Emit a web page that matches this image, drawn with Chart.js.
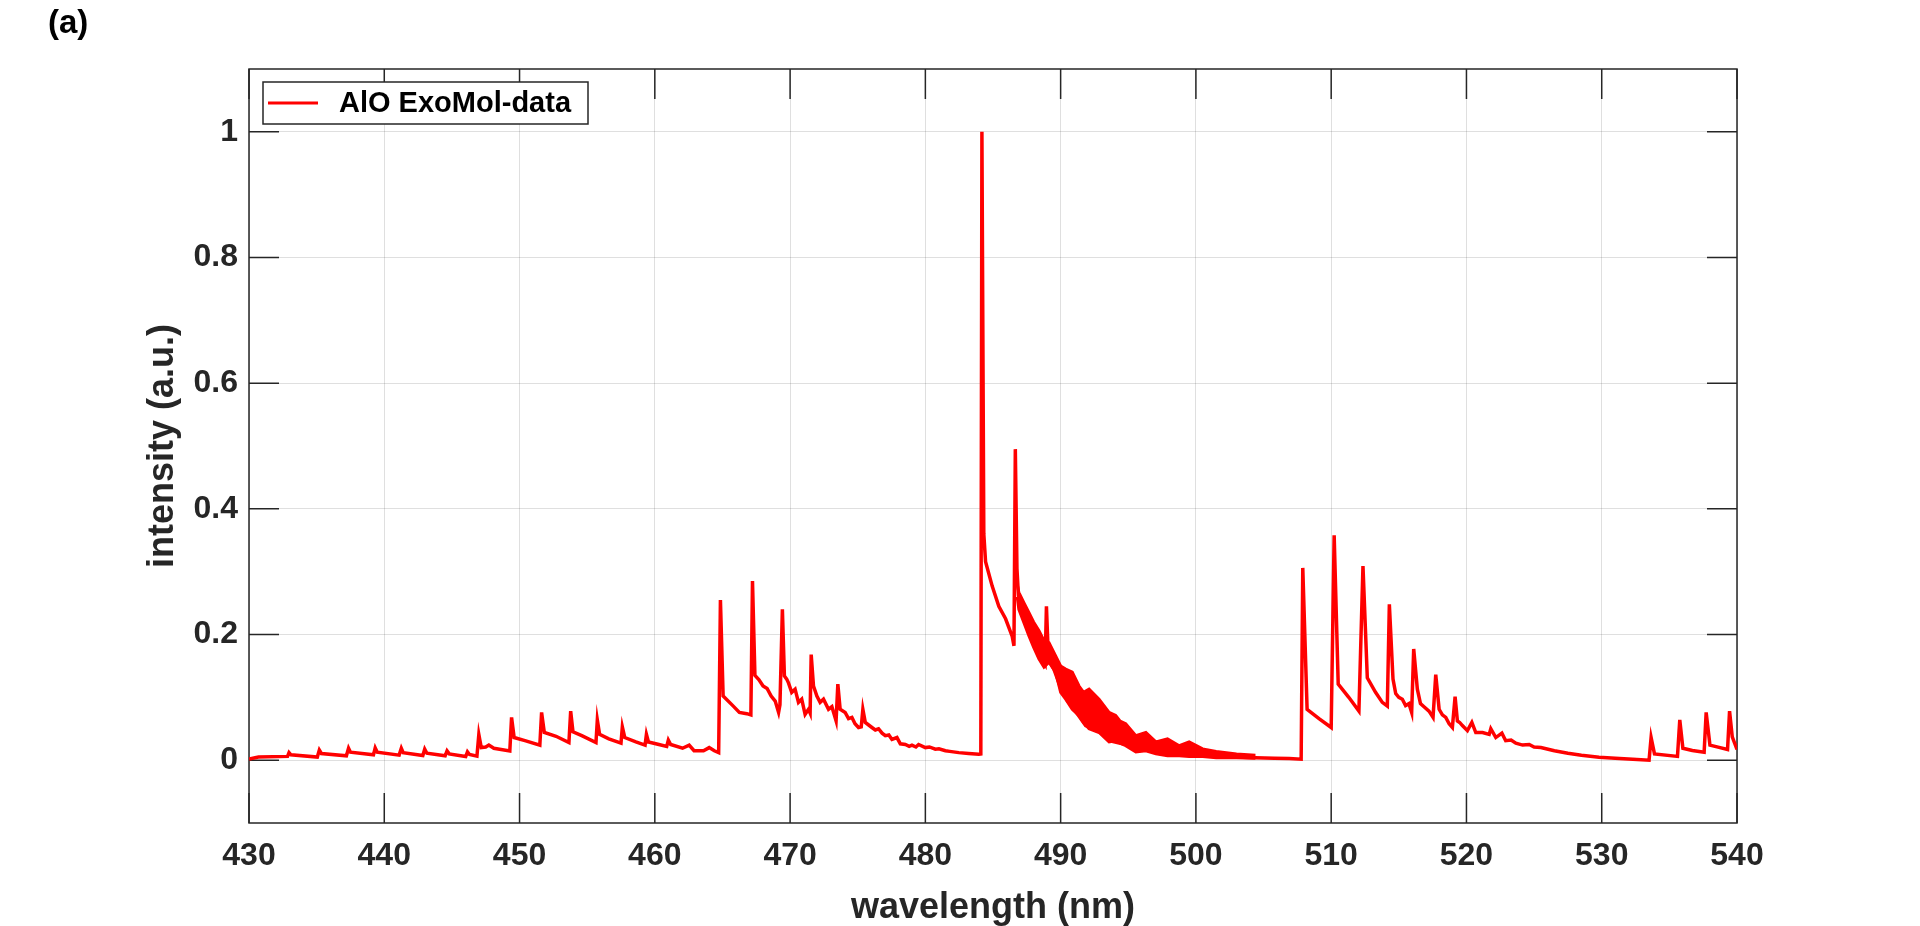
<!DOCTYPE html>
<html>
<head>
<meta charset="utf-8">
<script src="https://cdn.jsdelivr.net/npm/chart.js@4.4.1/dist/chart.umd.min.js"></script>
<style>
  html, body { margin: 0; padding: 0; background: #fff; }
  #wrap { width: 1920px; height: 926px; position: relative; }
</style>
</head>
<body>
<div id="wrap"><canvas id="spec"></canvas></div>
<script>
// ── values ────────────────────────────────────────────────────────────────────
const wavelength = [
  430.0, 430.7, 432.85, 432.96, 433.1, 435.05, 435.2, 435.35, 437.2, 437.36, 437.5,
  439.2, 439.33, 439.48, 441.1, 441.26, 441.4, 442.85, 442.99, 443.15, 444.5, 444.64, 444.8,
  446.02, 446.15, 446.3, 446.85, 446.99, 447.17, 447.5, 447.73, 448.1, 449.28, 449.41, 449.6,
  450.4, 451.5, 451.63, 451.83, 452.7, 453.65, 453.78, 453.95, 454.6, 455.65, 455.75, 455.92,
  456.6, 457.5, 457.6, 457.78, 458.6, 459.28, 459.38, 459.53, 460.3, 460.88, 461.0, 461.17,
  462.05, 462.54, 462.9, 463.6, 464.02, 464.4, 464.72, 464.85, 465.05, 465.8, 466.25, 466.8,
  467.1, 467.22, 467.4, 467.7, 468.0, 468.3, 468.6, 468.9, 469.15, 469.25, 469.43, 469.58,
  469.75, 469.88, 470.12, 470.37, 470.62, 470.86, 471.11, 471.36, 471.48, 471.56, 471.73,
  471.98, 472.22, 472.47, 472.84, 473.09, 473.4, 473.53, 473.7, 474.07, 474.32, 474.57, 474.8,
  475.06, 475.26, 475.38, 475.56, 476.05, 476.3, 476.54, 476.8, 477.04, 477.3, 477.53, 477.9,
  478.15, 478.52, 478.8, 479.01, 479.3, 479.5, 480.0, 480.3, 480.74, 481.0, 481.48, 481.8,
  482.47, 483.2, 483.95, 484.1, 484.18, 484.32, 484.45,
  484.94, 485.43, 485.93, 486.42, 486.55, 486.65, 486.77, 486.88, 487.5, 487.9, 488.3, 488.85,
  488.95, 489.1, 489.5, 490.0, 490.5, 491.1, 491.85, 492.84, 493.83, 494.81, 495.8, 496.3,
  497.78, 499.5, 501.5, 503.0, 504.4, 505.8, 506.9, 507.78, 507.9, 508.22, 509.1, 510.0, 510.22,
  510.52, 511.3, 512.05, 512.35, 512.67, 513.28, 513.78, 514.15, 514.3, 514.57, 514.77, 515.0,
  515.26, 515.5, 515.75, 515.95, 516.1, 516.37, 516.6, 516.86, 517.23, 517.53, 517.73, 517.98,
  518.22, 518.47, 518.72, 518.96, 519.16, 519.33, 519.5, 519.7, 520.07, 520.4, 520.69, 521.19,
  521.68, 521.8, 522.17, 522.62, 522.9, 523.3, 523.65, 524.15, 524.64, 525.0, 525.5, 526.5,
  527.5, 528.5, 529.8, 531.0, 532.3, 533.5, 533.65, 533.9, 535.6, 535.77, 536.0, 536.7, 537.57,
  537.72, 538.0, 538.6, 539.3, 539.45, 539.65, 540.0,
];
const intensity = [
  0.002, 0.005, 0.006, 0.012, 0.0085, 0.005, 0.016, 0.0106, 0.007, 0.019, 0.0127,
  0.0085, 0.0196, 0.0127, 0.008, 0.019, 0.012, 0.0074, 0.0175, 0.011, 0.0069, 0.0148, 0.010,
  0.0058, 0.0132, 0.009, 0.0063, 0.041, 0.020, 0.021, 0.024, 0.019, 0.0148, 0.068, 0.036,
  0.031, 0.024, 0.076, 0.044, 0.038, 0.028, 0.078, 0.045, 0.039, 0.028, 0.064, 0.041,
  0.034, 0.027, 0.053, 0.036, 0.029, 0.024, 0.041, 0.029, 0.025, 0.022, 0.032, 0.025,
  0.019, 0.024, 0.015, 0.015, 0.020, 0.015, 0.012, 0.255, 0.102, 0.086, 0.076, 0.074,
  0.072, 0.285, 0.135, 0.128, 0.118, 0.114, 0.102, 0.094, 0.076, 0.088, 0.240, 0.134,
  0.129, 0.123, 0.108, 0.113, 0.092, 0.097, 0.073, 0.081, 0.075, 0.168, 0.118,
  0.102, 0.092, 0.097, 0.081, 0.085, 0.0625, 0.121, 0.081, 0.076, 0.066, 0.068, 0.058,
  0.052, 0.053, 0.081, 0.060, 0.052, 0.048, 0.050, 0.043, 0.039, 0.040, 0.033, 0.036,
  0.026, 0.025, 0.022, 0.024, 0.021, 0.025, 0.020, 0.021, 0.0175, 0.018, 0.015, 0.014,
  0.012, 0.0106, 0.0095, 0.010, 1.0, 0.36, 0.316,
  0.277, 0.245, 0.225, 0.197, 0.182, 0.495, 0.305, 0.262, 0.215, 0.19, 0.17, 0.152,
  0.245, 0.16, 0.145, 0.115, 0.095, 0.078, 0.055, 0.046, 0.03, 0.025, 0.016, 0.016,
  0.009, 0.008, 0.006, 0.005, 0.004, 0.003, 0.0026, 0.0016, 0.306, 0.081, 0.066, 0.052, 0.358,
  0.121, 0.10, 0.078, 0.309, 0.131, 0.108, 0.092, 0.086, 0.248, 0.129, 0.106, 0.100,
  0.097, 0.087, 0.090, 0.076, 0.177, 0.113, 0.090, 0.085, 0.078, 0.068, 0.136, 0.081,
  0.072, 0.068, 0.058, 0.052, 0.101, 0.0625, 0.060, 0.055, 0.047, 0.060, 0.044, 0.044,
  0.041, 0.050, 0.036, 0.043, 0.031, 0.032, 0.027, 0.024, 0.025, 0.021, 0.020, 0.015,
  0.011, 0.008, 0.0048, 0.003, 0.0015, 0.0, 0.036, 0.010, 0.006, 0.064, 0.019, 0.0154, 0.0127,
  0.076, 0.024, 0.0207, 0.017, 0.078, 0.037, 0.017,
];

// dense unresolved lines after the 486.7 nm head show up as a solid band
const bandWavelength = [
  486.79, 486.91, 487.3, 487.65, 488.0, 488.4, 488.77, 489.14, 489.63, 490.0, 490.37, 490.86,
  491.36, 491.7, 492.1, 492.84, 493.58, 494.07, 494.4, 494.81, 495.56, 496.3, 497.04, 497.9,
  498.77, 499.5, 500.5, 501.5, 503.0, 504.4,
];
const bandUpper = [
  0.28, 0.267, 0.25, 0.235, 0.22, 0.206, 0.19, 0.187, 0.166, 0.150, 0.145, 0.140,
  0.118, 0.108, 0.113, 0.097, 0.076, 0.071, 0.062, 0.058, 0.039, 0.044, 0.029, 0.034,
  0.023, 0.029, 0.018, 0.014, 0.010, 0.008,
];
const bandLower = [
  0.26, 0.240, 0.218, 0.198, 0.18, 0.161, 0.148, 0.156, 0.140, 0.108, 0.097, 0.081,
  0.071, 0.060, 0.050, 0.044, 0.029, 0.031, 0.027, 0.023, 0.013, 0.015, 0.010, 0.007,
  0.007, 0.006, 0.006, 0.004, 0.004, 0.003,
];

const xTickValues = [430, 440, 450, 460, 470, 480, 490, 500, 510, 520, 530, 540];
const yTickValues = [0, 0.2, 0.4, 0.6, 0.8, 1];
const seriesLabel = 'AlO ExoMol-data';

// ── styling ───────────────────────────────────────────────────────────────────
const C = { text: '#262626', axis: '#262626', grid: 'rgba(38,38,38,0.15)', red: '#ff0000' };
const FONT = "'Liberation Sans', Arial, Helvetica, sans-serif";
const TICK_LEN = 30;

const pts = (xs, ys) => xs.map((x, i) => ({ x, y: ys[i] }));

// inner ticks on all four sides + box, matlab style
const frame = {
  id: 'frame',
  beforeDatasetsDraw(chart) {
    const { ctx, chartArea: a, scales: { x, y } } = chart;
    ctx.save();
    ctx.strokeStyle = C.axis;
    ctx.lineWidth = 1.5;
    ctx.beginPath();
    xTickValues.forEach(v => {
      const px = x.getPixelForValue(v);
      ctx.moveTo(px, a.bottom); ctx.lineTo(px, a.bottom - TICK_LEN);
      ctx.moveTo(px, a.top);    ctx.lineTo(px, a.top + TICK_LEN);
    });
    yTickValues.forEach(v => {
      const py = y.getPixelForValue(v);
      ctx.moveTo(a.left, py);  ctx.lineTo(a.left + TICK_LEN, py);
      ctx.moveTo(a.right, py); ctx.lineTo(a.right - TICK_LEN, py);
    });
    ctx.stroke();
    ctx.strokeRect(a.left, a.top, a.right - a.left, a.bottom - a.top);
    ctx.restore();
  },
  afterDraw(chart) {
    const { ctx, chartArea: a } = chart;
    ctx.save();
    // legend box
    const lx = a.left + 14, ly = a.top + 13, lw = 325, lh = 42;
    ctx.fillStyle = '#fff';
    ctx.fillRect(lx, ly, lw, lh);
    ctx.strokeStyle = C.axis;
    ctx.lineWidth = 1.5;
    ctx.strokeRect(lx, ly, lw, lh);
    ctx.strokeStyle = C.red;
    ctx.lineWidth = 3;
    ctx.beginPath();
    ctx.moveTo(lx + 5, ly + lh / 2);
    ctx.lineTo(lx + 55, ly + lh / 2);
    ctx.stroke();
    ctx.fillStyle = '#000';
    ctx.font = `bold 29px ${FONT}`;
    ctx.textBaseline = 'middle';
    ctx.textAlign = 'left';
    ctx.fillText(chart.data.datasets[0].label, lx + 76, ly + lh / 2 + 1);
    // panel letter
    ctx.font = `bold 33px ${FONT}`;
    ctx.fillText('(a)', 48, 24);
    ctx.restore();
  },
};

new Chart(document.getElementById('spec'), {
  type: 'line',
  data: {
    datasets: [
      {
        label: seriesLabel,
        data: pts(wavelength, intensity),
        borderColor: C.red, borderWidth: 3.5, pointRadius: 0, tension: 0, fill: false,
      },
      {
        label: 'band-upper',
        data: pts(bandWavelength, bandUpper),
        borderColor: C.red, backgroundColor: C.red, borderWidth: 3, pointRadius: 0, tension: 0,
        fill: '+1',
      },
      {
        label: 'band-lower',
        data: pts(bandWavelength, bandLower),
        borderColor: C.red, borderWidth: 3, pointRadius: 0, tension: 0, fill: false,
      },
    ],
  },
  options: {
    responsive: true, maintainAspectRatio: false, animation: false,
    layout: { padding: { left: 0, top: 69, right: 183, bottom: 0 } },
    plugins: { legend: { display: false }, tooltip: { enabled: false } },
    scales: {
      x: {
        type: 'linear', min: 430, max: 540,
        afterBuildTicks: s => { s.ticks = xTickValues.map(value => ({ value })); },
        afterFit: s => { s.height = 103; },
        grid: { color: C.grid, lineWidth: 1, drawTicks: false },
        border: { display: false },
        ticks: { color: C.text, padding: 14, maxRotation: 0, font: { family: FONT, size: 32, weight: 'bold' } },
        title: {
          display: true, text: 'wavelength (nm)', color: C.text,
          font: { family: FONT, size: 36, weight: 'bold' }, padding: { top: 0, bottom: -4 },
        },
      },
      y: {
        type: 'linear', min: -0.1, max: 1.1,
        afterBuildTicks: s => { s.ticks = yTickValues.map(value => ({ value })); },
        afterFit: s => { s.width = 249; },
        grid: { color: C.grid, lineWidth: 1, drawTicks: false },
        border: { display: false },
        ticks: {
          color: C.text, padding: 11, font: { family: FONT, size: 32, weight: 'bold' },
          callback: v => String(+v.toFixed(1)),
        },
        title: {
          display: true, text: 'intensity (a.u.)', color: C.text,
          font: { family: FONT, size: 36, weight: 'bold' }, padding: { top: 141, bottom: 0 },
        },
      },
    },
  },
  plugins: [frame],
});
</script>
</body>
</html>
